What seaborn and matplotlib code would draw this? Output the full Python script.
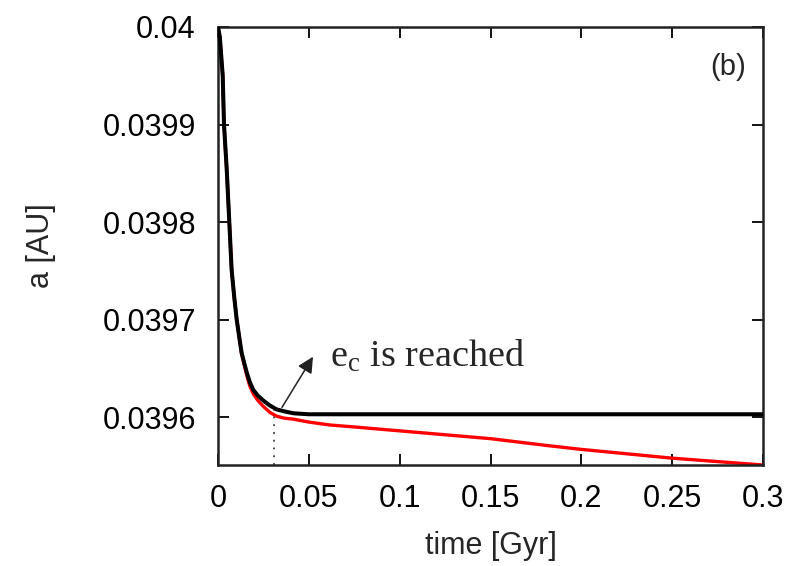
import matplotlib
matplotlib.use("Agg")
import matplotlib.pyplot as plt
import seaborn as sns
import pandas as pd

# --- data ---
t_black = [0.0, 0.0010, 0.0026, 0.0033, 0.0048, 0.0062, 0.0075, 0.0090, 0.0103,
           0.0117, 0.0130, 0.0145, 0.0158, 0.0175, 0.0194, 0.0220, 0.0250, 0.0285,
           0.0323, 0.0365, 0.0415, 0.0500, 0.1000, 0.2000, 0.3000]
a_black = [0.040000, 0.039990, 0.039950, 0.039900, 0.039854, 0.039801, 0.039751,
           0.039722, 0.039700, 0.039682, 0.039666, 0.039655, 0.039646, 0.039636,
           0.039628, 0.039622, 0.039617, 0.039612, 0.039608, 0.039606, 0.039604,
           0.039603, 0.039603, 0.039603, 0.039603]

t_red = [0.0, 0.0010, 0.0026, 0.0033, 0.0048, 0.0062, 0.0075, 0.0090, 0.0103,
         0.0117, 0.0130, 0.0145, 0.0158, 0.0175, 0.0194, 0.0220, 0.0250, 0.0285,
         0.0323, 0.0365, 0.0415, 0.0500, 0.0617, 0.0750, 0.1000, 0.1500, 0.1810,
         0.2000, 0.2500, 0.3000]
a_red = [0.040000, 0.039990, 0.039950, 0.039900, 0.039854, 0.039801, 0.039751,
         0.039722, 0.039700, 0.039682, 0.039665, 0.039653, 0.039643, 0.039632,
         0.039624, 0.039617, 0.039611, 0.039605, 0.039601, 0.039599, 0.039598,
         0.039595, 0.039592, 0.039590, 0.039586, 0.039578, 0.039571, 0.039567,
         0.039558, 0.039551]

t_ec = 0.031          # time when e_c is reached
a_ec = 0.039607

xticks = [0, 0.05, 0.1, 0.15, 0.2, 0.25, 0.3]
xtick_labels = ["0", "0.05", "0.1", "0.15", "0.2", "0.25", "0.3"]
yticks = [0.0396, 0.0397, 0.0398, 0.0399, 0.0400]
ytick_labels = ["0.0396", "0.0397", "0.0398", "0.0399", "0.04"]

df_black = pd.DataFrame({"time": t_black, "a": a_black})
df_red = pd.DataFrame({"time": t_red, "a": a_red})

sns.set_style("ticks")
plt.rcParams["font.family"] = ["Liberation Sans", "DejaVu Sans"]
plt.rcParams["mathtext.fontset"] = "custom"
plt.rcParams["mathtext.rm"] = "Liberation Serif"
plt.rcParams["mathtext.it"] = "Liberation Serif:italic"

fig = plt.figure(figsize=(7.97, 5.66), dpi=100)
ax = fig.add_axes([218 / 797, 1 - 465 / 566, (763 - 218) / 797, (465 - 27) / 566])

sns.lineplot(data=df_red, x="time", y="a", color="#ff0000", linewidth=2.4, ax=ax,
             sort=False, estimator=None)
sns.lineplot(data=df_black, x="time", y="a", color="black", linewidth=2.9, ax=ax,
             sort=False, estimator=None)
ax.lines[1].set_zorder(3)
ax.lines[0].set_zorder(2)
for ln in ax.lines:
    ln.set_solid_joinstyle("round")
    ln.set_solid_capstyle("round")

ax.set_xlim(0, 0.3)
ax.set_ylim(0.039551, 0.04)

# dotted marker of e_c
ax.plot([t_ec, t_ec], [0.039551, a_ec], linestyle=(0, (1, 3)), color="#555555",
        linewidth=1.4, zorder=1)

ax.annotate("", xy=(0.0523, 0.039662), xytext=(0.0352, 0.039610),
            arrowprops=dict(arrowstyle="-|>", color="#222222", lw=1.1,
                            mutation_scale=24, shrinkA=0, shrinkB=0))
ax.text(0.0617, 0.039652, r"$\mathrm{e_c}$ is reached", fontsize=27.5,
        family="Liberation Serif", va="baseline", ha="left")
ax.text(0.2807, 0.039959, "(b)", fontsize=21, ha="center", va="center")

ax.set_xticks(xticks)
ax.set_xticklabels(xtick_labels)
ax.set_yticks(yticks)
ax.set_yticklabels(ytick_labels)
ax.tick_params(direction="in", length=8, width=1.3, top=True, right=True,
               labelsize=22, colors="black")
ax.tick_params(axis="y", pad=16)
ax.tick_params(axis="x", pad=14)
for sp in ax.spines.values():
    sp.set_linewidth(1.8)
    sp.set_color("#222222")

ax.set_xlabel("time [Gyr]", fontsize=22, labelpad=12)
ax.set_ylabel("a [AU]", fontsize=22, labelpad=33)

fig.savefig("out.png", dpi=100)
